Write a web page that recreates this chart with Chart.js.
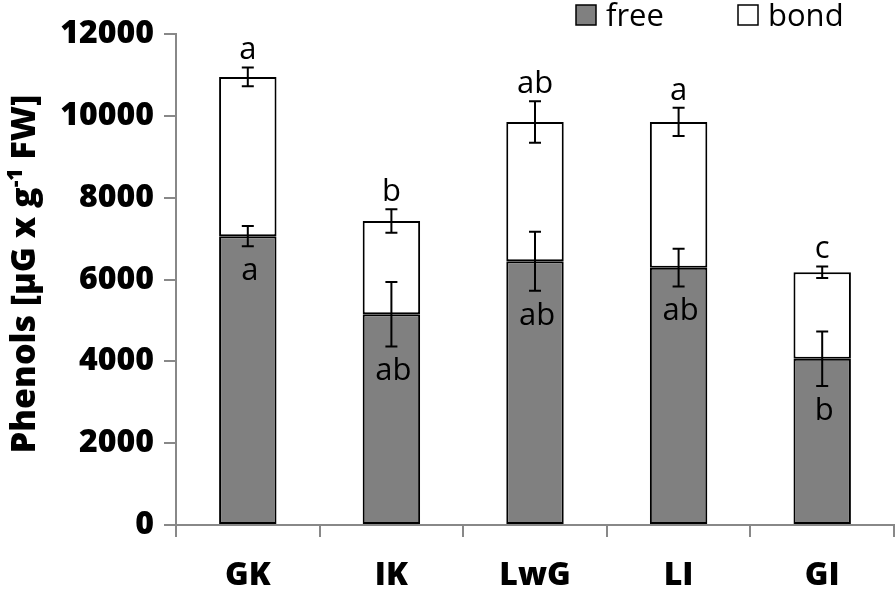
<!DOCTYPE html>
<html>
<head>
<meta charset="utf-8">
<script src="https://cdn.jsdelivr.net/npm/chart.js@4.4.1/dist/chart.umd.min.js"></script>
<style>
    html, body { margin: 0; padding: 0; background: #fff; }
    #wrap { position: relative; width: 895px; height: 591px; }
</style>
</head>
<body>
<div id="wrap"><canvas id="phenolChart" width="895" height="591"></canvas></div>
<script>
// dados
const categorias = ['GK', 'IK', 'LwG', 'LI', 'GI'];
const livre = [7060, 5150, 6445, 6290, 4065];          // free
const total = [10950, 7430, 9850, 9850, 6175];         // free + bond
const ligado = total.map((t, i) => t - livre[i]);      // bond
const erroLivre = [245, 790, 720, 460, 665];
const erroTotal = [230, 285, 508, 345, 140];
const letrasTopo = ['a', 'b', 'ab', 'a', 'c'];
const letrasLivre = ['a', 'ab', 'ab', 'ab', 'b'];
const ticksY = [0, 2000, 4000, 6000, 8000, 10000, 12000];

const FONTE = "'Open Sans', sans-serif";
const CINZA_EIXO = '#888888';

// barras de erro + letras de significância
const pluginErros = {
    id: 'erros',
    afterDatasetsDraw(chart) {
        const ctx = chart.ctx;
        const y = chart.scales.y;
        const metaLivre = chart.getDatasetMeta(0);
        ctx.save();
        ctx.strokeStyle = '#000';
        ctx.lineWidth = 2;
        ctx.fillStyle = '#000';
        ctx.font = '31px ' + FONTE;
        ctx.textAlign = 'center';
        ctx.textBaseline = 'middle';
        categorias.forEach((c, i) => {
            const x = metaLivre.data[i].x;
            const pares = [[livre[i], erroLivre[i]], [total[i], erroTotal[i]]];
            pares.forEach(([v, e]) => {
                const yTop = y.getPixelForValue(v + e);
                const yBot = y.getPixelForValue(v - e);
                ctx.beginPath();
                ctx.moveTo(x, yTop); ctx.lineTo(x, yBot);
                ctx.moveTo(x - 6, yTop); ctx.lineTo(x + 6, yTop);
                ctx.moveTo(x - 6, yBot); ctx.lineTo(x + 6, yBot);
                ctx.stroke();
            });
            ctx.fillText(letrasTopo[i], x, y.getPixelForValue(total[i] + erroTotal[i]) - 17);
            ctx.fillText(letrasLivre[i], x + 2, y.getPixelForValue(livre[i] - erroLivre[i]) + 25);
        });
        ctx.restore();
    }
};

// legenda e título do eixo Y desenhados à mão (posição igual ao original)
const pluginExtras = {
    id: 'extras',
    afterDraw(chart) {
        const ctx = chart.ctx;
        ctx.save();
        // legenda
        const itens = [
            { txt: 'free', cor: '#808080', x: 576 },
            { txt: 'bond', cor: '#ffffff', x: 738 }
        ];
        ctx.font = '31px ' + FONTE;
        ctx.textBaseline = 'alphabetic';
        ctx.textAlign = 'left';
        itens.forEach(it => {
            ctx.fillStyle = it.cor;
            ctx.fillRect(it.x, 5, 20, 20);
            ctx.strokeStyle = '#000';
            ctx.lineWidth = 1.5;
            ctx.strokeRect(it.x, 5, 20, 20);
            ctx.fillStyle = '#000';
            ctx.fillText(it.txt, it.x + 30, 26);
        });

        // título do eixo Y com sobrescrito
        const partes = [
            { t: 'Phenols [µG x g', f: '800 34px ' + FONTE, dy: 0 },
            { t: '-1', f: '800 21px ' + FONTE, dy: -13 },
            { t: ' FW]', f: '800 34px ' + FONTE, dy: 0 }
        ];
        let larg = 0;
        partes.forEach(p => { ctx.font = p.f; p.w = ctx.measureText(p.t).width; larg += p.w; });
        ctx.translate(35, 274);
        ctx.rotate(-Math.PI / 2);
        ctx.textBaseline = 'alphabetic';
        let pos = -larg / 2;
        partes.forEach(p => {
            ctx.font = p.f;
            ctx.fillText(p.t, pos, p.dy);
            pos += p.w;
        });
        ctx.restore();
    }
};

new Chart(document.getElementById('phenolChart'), {
    type: 'bar',
    data: {
        labels: categorias,
        datasets: [
            {
                label: 'free',
                data: livre,
                backgroundColor: '#808080',
                borderColor: '#000',
                borderWidth: 2,
                borderSkipped: false,
                categoryPercentage: 1,
                barPercentage: 0.4
            },
            {
                label: 'bond',
                data: ligado,
                backgroundColor: '#ffffff',
                borderColor: '#000',
                borderWidth: 2,
                borderSkipped: false,
                categoryPercentage: 1,
                barPercentage: 0.4
            }
        ]
    },
    options: {
        responsive: false,
        animation: false,
        layout: { padding: { top: 34, right: 1, left: 0, bottom: 0 } },
        plugins: {
            legend: { display: false },
            tooltip: { enabled: false }
        },
        scales: {
            x: {
                stacked: true,
                offset: true,
                border: { color: CINZA_EIXO, width: 2 },
                grid: { offset: true, drawOnChartArea: false, color: CINZA_EIXO, lineWidth: 2, tickLength: 12 },
                ticks: { color: '#000', font: { family: FONTE, size: 32, weight: '800' }, padding: 20 },
                afterFit: s => { s.height = 66; }
            },
            y: {
                stacked: true,
                min: 0,
                max: 12000,
                border: { color: CINZA_EIXO, width: 2 },
                grid: { drawOnChartArea: false, color: CINZA_EIXO, lineWidth: 2, tickLength: 12 },
                afterBuildTicks: s => { s.ticks = ticksY.map(v => ({ value: v })); },
                ticks: {
                    color: '#000',
                    font: { family: FONTE, size: 32, weight: '800' },
                    padding: 10,
                    callback: v => String(v)
                },
                afterFit: s => { s.width = 176; }
            }
        }
    },
    plugins: [pluginErros, pluginExtras]
});
</script>
</body>
</html>
